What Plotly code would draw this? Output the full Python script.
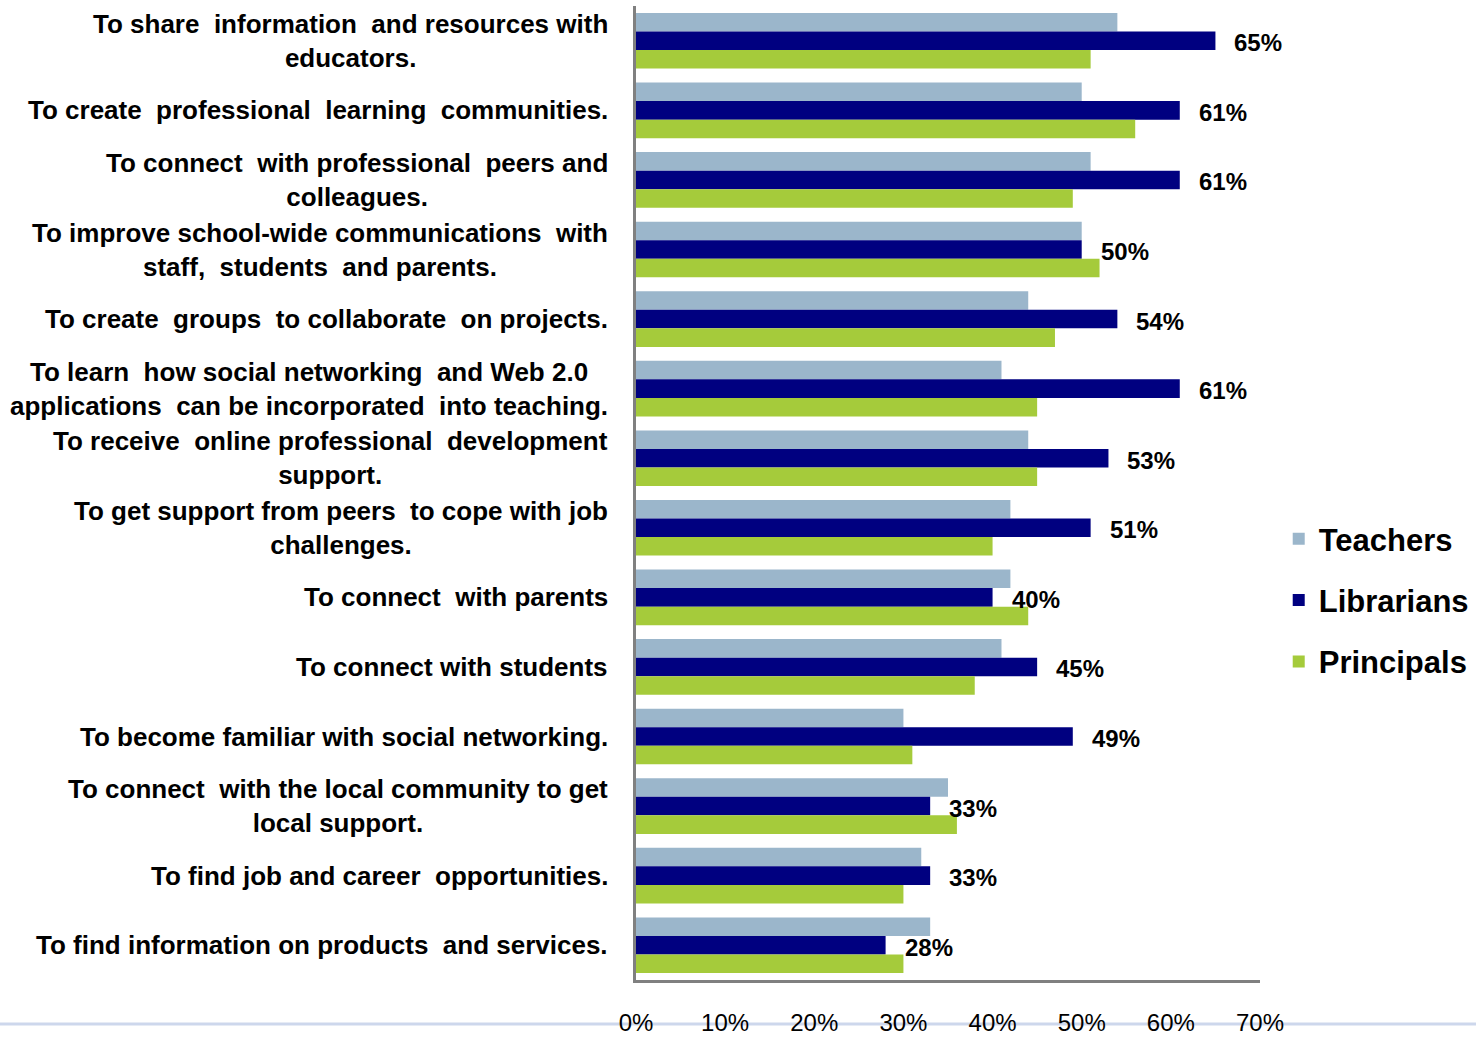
import plotly.graph_objects as go

# Survey: reasons for using social networking, by educator group (%)
categories = [
    "To share  information  and resources with<br>educators.",
    "To create  professional  learning  communities.",
    "To connect  with professional  peers and<br>colleagues.",
    "To improve school-wide communications  with<br>staff,  students  and parents.",
    "To create  groups  to collaborate  on projects.",
    "To learn  how social networking  and Web 2.0<br>applications  can be incorporated  into teaching.",
    "To receive  online professional  development<br>support.",
    "To get support from peers  to cope with job<br>challenges.",
    "To connect  with parents",
    "To connect with students",
    "To become familiar with social networking.",
    "To connect  with the local community to get<br>local support.",
    "To find job and career  opportunities.",
    "To find information on products  and services.",
]

teachers = [54, 50, 51, 50, 44, 41, 44, 42, 42, 41, 30, 35, 32, 33]
librarians = [65, 61, 61, 50, 54, 61, 53, 51, 40, 45, 49, 33, 33, 28]
principals = [51, 56, 49, 52, 47, 45, 45, 40, 44, 38, 31, 36, 30, 30]

x_ticks = [0, 10, 20, 30, 40, 50, 60, 70]
x_tick_text = [f"{v}%" for v in x_ticks]

FONT = "Liberation Sans, Arial, sans-serif"

W, H = 1476, 1037
ML, MR, MT, MB = 636, 216, 6, 57
PW, PH = W - ML - MR, H - MT - MB


def keep_spaces(s):
    # double spaces survive SVG whitespace collapsing as nbsp + space
    return s.replace("  ", "\u00a0 ")


fig = go.Figure()
series = [
    ("Teachers", teachers, "#9BB6CB"),
    ("Librarians", librarians, "#000080"),
    ("Principals", principals, "#A5CB3B"),
]
for name, vals, color in series:
    fig.add_trace(go.Bar(
        y=categories, x=vals, name=name, orientation="h",
        marker=dict(color=color, line=dict(width=0)),
        legendgroup=name, hoverinfo="skip",
    ))

# category labels: centred lines, right-aligned block left of the axis
for cat in categories:
    fig.add_annotation(
        x=0, xref="paper", y=cat, yref="y",
        text=keep_spaces(cat), showarrow=False,
        xanchor="right", yanchor="middle", align="center",
        xshift=-26,
        font=dict(family=FONT, size=26, color="black", weight="bold"),
    )

# value labels for the Librarians series
for cat, v in zip(categories, librarians):
    fig.add_annotation(
        x=v, xref="x", y=cat, yref="y",
        text=f"{v}%", showarrow=False,
        xanchor="left", yanchor="middle", xshift=17, yshift=-2,
        font=dict(family=FONT, size=24, color="black", weight="bold"),
    )

# thin rule running across the bottom of the page
rule_y = -(1024 - (MT + PH)) / PH
fig.add_shape(
    type="line", xref="paper", yref="paper",
    x0=-ML / PW, x1=(W - ML) / PW, y0=rule_y, y1=rule_y,
    line=dict(color="#CDD7EC", width=3), layer="below",
)

fig.update_layout(
    width=W, height=H,
    margin=dict(l=ML, r=MR, t=MT, b=MB, autoexpand=False),
    paper_bgcolor="white", plot_bgcolor="white",
    barmode="group", bargap=0.2, bargroupgap=0,
    font=dict(family=FONT, color="black"),
    showlegend=True,
    legend=dict(
        x=1.03, xanchor="left", y=0.39, yanchor="middle",
        font=dict(family=FONT, size=31, color="black", weight="bold"),
        tracegroupgap=18, bgcolor="rgba(0,0,0,0)",
    ),
    xaxis=dict(
        range=[0, 70], tickvals=x_ticks, ticktext=x_tick_text,
        showgrid=False, zeroline=False, automargin=False,
        showline=True, linecolor="#808080", linewidth=2.5,
        ticks="", ticklabelstandoff=19,
        tickfont=dict(family=FONT, size=24, color="black"),
    ),
    yaxis=dict(
        autorange="reversed", showgrid=False, zeroline=False,
        automargin=False,
        showline=True, linecolor="#808080", linewidth=2.5,
        showticklabels=False, ticks="",
    ),
)

fig.write_html("out.html")
